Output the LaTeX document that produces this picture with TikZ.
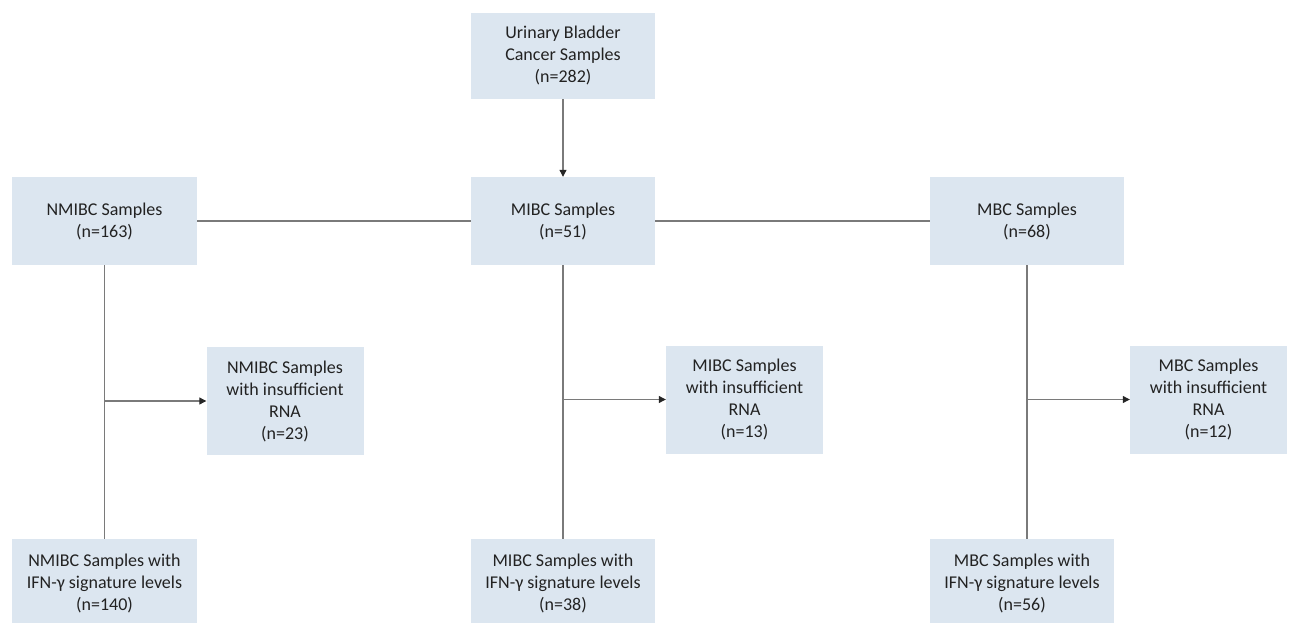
\documentclass[tikz,border=0pt]{standalone}
\usepackage{fontspec}
\setmainfont{Carlito}
\usetikzlibrary{%
    arrows.meta,
    calc,
    positioning
}

\definecolor{boxblue}{HTML}{DCE6F0}
\definecolor{linegray}{HTML}{7A7A7A}
\definecolor{textdark}{HTML}{222222}

\begin{document}
\begin{tikzpicture}[x=1pt, y=-1pt,
        sample/.style={fill=boxblue, inner sep=0pt, align=center,
                       text=textdark, font=\fontsize{18}{22}\selectfont},
        wide/.style={sample, minimum width=184pt, minimum height=88pt},
        side/.style={sample, minimum width=157pt, minimum height=108pt},
        link/.style={draw=linegray, line width=1.1pt},
        arrow/.style={link, -{Triangle[length=7pt, width=7pt, color=black!85]}}
    ]
    \clip (0,0) rectangle (1291,623);

    \node (urinary) [wide, minimum height=86pt] at (563,56)
        {Urinary Bladder\\Cancer Samples\\(n=282)};

    \node (nmibc) [wide, minimum width=185pt] at (104.5,221)
        {NMIBC Samples\\(n=163)};
    \node (mibc)  [wide] at (563,221)
        {MIBC Samples\\(n=51)};
    \node (mbc)   [wide, minimum width=194pt] at (1027,221)
        {MBC Samples\\(n=68)};

    \node (nmibc-rna) [side] at (285,401)
        {NMIBC Samples\\with insufficient\\RNA\\(n=23)};
    \node (mibc-rna)  [side] at (744.5,399.5)
        {MIBC Samples\\with insufficient\\RNA\\(n=13)};
    \node (mbc-rna)   [side] at (1208.5,399.5)
        {MBC Samples\\with insufficient\\RNA\\(n=12)};

    \node (nmibc-ifn) [wide, minimum width=185pt] at (104.5,583)
        {NMIBC Samples with\\IFN-γ signature levels\\(n=140)};
    \node (mibc-ifn)  [wide] at (563,583)
        {MIBC Samples with\\IFN-γ signature levels\\(n=38)};
    \node (mbc-ifn)   [wide] at (1022,583)
        {MBC Samples with\\IFN-γ signature levels\\(n=56)};

    \draw[arrow] (urinary) -- (mibc);
    \draw[link] (nmibc.east) -- (mibc.west);
    \draw[link] (mibc.east) -- (mbc.west);

    \foreach \Group in {nmibc,mibc,mbc} {
        \draw[link] (\Group.south) -- (\Group.south |- \Group-ifn.north);
        \draw[arrow] (\Group.south |- \Group-rna.west) -- (\Group-rna.west);
    }
\end{tikzpicture}
\end{document}
